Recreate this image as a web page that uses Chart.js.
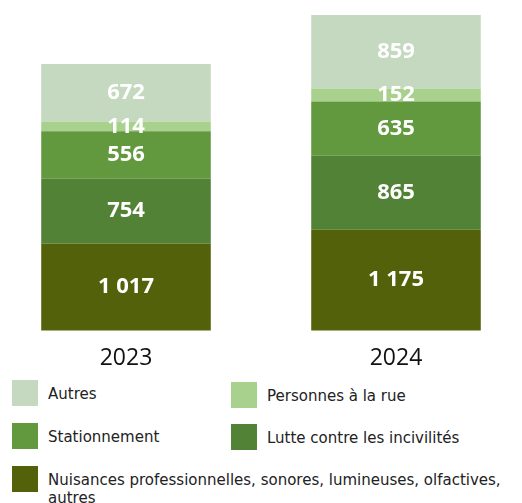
<!DOCTYPE html>
<html lang="fr">
<head>
<meta charset="utf-8">
<script src="https://cdn.jsdelivr.net/npm/chart.js@4"></script>
<style>
  body { margin: 0; background: #fff; font-family: "DejaVu Sans", sans-serif; }
  #zone { position: relative; width: 522px; height: 503px; overflow: hidden; }
  #graph { position: absolute; left: 0; top: 0; width: 522px; height: 378px; }
  .leg { position: absolute; display: flex; align-items: flex-start; font-size: 15px; color: #222; line-height: 18px; }
  .leg span.carre { display: inline-block; width: 26px; height: 26px; margin-right: 10px; flex: none; }
  .leg span.txt { padding-top: 5px; }
</style>
</head>
<body>
<div id="zone">
  <div id="graph"><canvas id="grafico"></canvas></div>
  <div id="legende"></div>
</div>
<script>
/* =========================
   Signalements par motif
========================= */

const ANNEES = ['2023', '2024'];

// de bas en haut
const NUISANCES = [1017, 1175];
const INCIVILITES = [754, 865];
const STATIONNEMENT = [556, 635];
const PERSONNES_RUE = [114, 152];
const AUTRES = [672, 859];

const SERIES = [
  { label: 'Nuisances professionnelles, sonores, lumineuses, olfactives, autres', data: NUISANCES, couleur: '#53620a' },
  { label: 'Lutte contre les incivilités', data: INCIVILITES, couleur: '#518235' },
  { label: 'Stationnement', data: STATIONNEMENT, couleur: '#62993f' },
  { label: 'Personnes à la rue', data: PERSONNES_RUE, couleur: '#a9d18e' },
  { label: 'Autres', data: AUTRES, couleur: '#c5d9c0' }
];

const totaux = ANNEES.map((_, i) => SERIES.reduce((s, d) => s + d.data[i], 0));

// format "1 017"
function formatNombre(v) {
  return String(v).replace(/\B(?=(\d{3})+(?!\d))/g, ' ');
}

// étiquettes blanches au centre des segments
const etiquettes = {
  id: 'etiquettes',
  afterDatasetsDraw(chart) {
    const ctx = chart.ctx;
    ctx.save();
    ctx.fillStyle = '#fff';
    ctx.font = 'bold 22px "Open Sans", sans-serif';
    ctx.textAlign = 'center';
    ctx.textBaseline = 'middle';
    chart.data.datasets.forEach((ds, i) => {
      chart.getDatasetMeta(i).data.forEach((el, j) => {
        ctx.fillText(formatNombre(ds.data[j]), el.x, (el.y + el.base) / 2);
      });
    });
    ctx.restore();
  }
};

new Chart(document.getElementById('grafico'), {
  type: 'bar',
  data: {
    labels: ANNEES,
    datasets: SERIES.map(s => ({
      label: s.label,
      data: s.data,
      backgroundColor: s.couleur,
      borderWidth: 0,
      categoryPercentage: 1,
      barPercentage: 0.628,
      clip: false
    }))
  },
  options: {
    responsive: true,
    maintainAspectRatio: false,
    animation: false,
    layout: { padding: { left: 126, right: 126, top: 15, bottom: 0 } },
    plugins: { legend: { display: false }, tooltip: { enabled: false } },
    scales: {
      x: {
        stacked: true,
        offset: false,
        grid: { display: false },
        border: { display: false },
        ticks: { color: '#111', font: { family: 'Open Sans', size: 23 }, padding: 6 }
      },
      y: {
        stacked: true,
        display: false,
        min: 0,
        max: Math.max(...totaux)
      }
    }
  },
  plugins: [etiquettes]
});

// Légende HTML sur deux colonnes
const POSITIONS = {
  'Autres': [12, 380],
  'Personnes à la rue': [231, 382],
  'Stationnement': [12, 423],
  'Lutte contre les incivilités': [231, 424],
  'Nuisances professionnelles, sonores, lumineuses, olfactives, autres': [12, 466]
};
const leg = document.getElementById('legende');
SERIES.slice().reverse().forEach(s => {
  const [x, y] = POSITIONS[s.label];
  const item = document.createElement('div');
  item.className = 'leg';
  item.style.left = x + 'px';
  item.style.top = y + 'px';
  item.style.width = (522 - x) + 'px';
  item.innerHTML = `<span class="carre" style="background:${s.couleur}"></span><span class="txt">${s.label}</span>`;
  leg.appendChild(item);
});
</script>
</body>
</html>
